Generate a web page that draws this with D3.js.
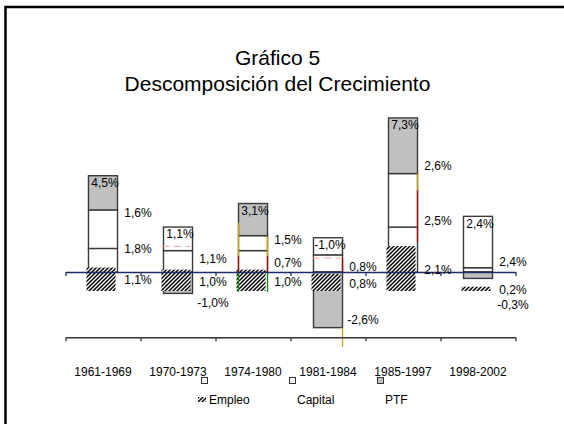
<!DOCTYPE html>
<html>
<head>
<meta charset="utf-8">
<script src="https://cdn.jsdelivr.net/npm/d3@7"></script>
<style>
  body { margin: 0; background: #fff; }
  text { font-family: "Liberation Sans", Arial, sans-serif; fill: #000; }
</style>
</head>
<body>
<script>
// datos del gráfico (% de crecimiento por periodo)
const periodos = ["1961-1969", "1970-1973", "1974-1980", "1981-1984", "1985-1997", "1998-2002"];
const empleo = [1.1, 1.0, 1.0, 0.8, 2.1, 0.2];
const capital = [1.8, 1.1, 0.7, 0.8, 2.5, 2.4];
const ptf = [1.6, -1.0, 1.5, -2.6, 2.6, -0.3];
const totales = [4.5, 1.1, 3.1, -1.0, 7.3, 2.4];

// restos de lineas de la hoja original (barras de error / lineas de unión)
const guiaPeriodo = ["1974-1980", "1974-1980", "1974-1980", "1974-1980", "1974-1980", "1974-1980",
                     "1981-1984", "1981-1984", "1985-1997", "1985-1997"];
const guiaLado = ["izq", "izq", "izq", "der", "der", "der", "der", "der", "der", "der"];
const guiaDesde = [2.3, 0.75, 0, 1.65, 0.75, 0, 0.65, -2.6, 4.6, 3.8];
const guiaHasta = [0.75, 0, -0.93, 0.75, 0, -0.93, 0, -3.5, 3.8, 1.4];
const guiaTipo = ["amarilla", "roja", "verde", "amarilla", "roja", "verde", "roja", "amarilla", "amarilla", "roja"];
const marcaPeriodo = ["1970-1973", "1981-1984"];
const marcaValor = [1.2, 0.65];

const leyenda = ["Empleo", "Capital", "PTF"];

const W = 564, H = 424;
// formato con coma decimal y guion normal
const fmt = v => d3.format(".1f")(v).replace(".", ",").replace("\u2212", "-") + "%";

const svg = d3.select("body").append("svg")
    .attr("width", W)
    .attr("height", H);

// trama rayada para el empleo
const defs = svg.append("defs");
const pat = defs.append("pattern")
    .attr("id", "rayado")
    .attr("patternUnits", "userSpaceOnUse")
    .attr("width", 4)
    .attr("height", 4);
pat.append("rect").attr("width", 4).attr("height", 4).attr("fill", "#fff");
pat.append("path")
    .attr("d", "M-1,1 L1,-1 M0,4 L4,0 M3,5 L5,3")
    .attr("stroke", "#000")
    .attr("stroke-width", 1.5);

// marco
svg.append("rect")
    .attr("x", 5.5).attr("y", 7)
    .attr("width", 620).attr("height", 500)
    .attr("fill", "none")
    .attr("stroke", "#000")
    .attr("stroke-width", 2.5);

// titulo
const titulo = svg.append("text")
    .attr("x", 277.5)
    .attr("text-anchor", "middle")
    .style("font-size", "21px");
titulo.append("tspan").attr("x", 277.5).attr("y", 65).text("Gráfico 5");
titulo.append("tspan").attr("x", 277.5).attr("y", 90.5).text("Descomposición del Crecimiento");

// escalas
const x = d3.scaleBand()
    .domain(periodos)
    .range([65.5, 515.5])
    .paddingInner(0.613)
    .paddingOuter(0.3065);
const bw = x.bandwidth();
const cx = p => x(p) + bw / 2;

const y = d3.scaleLinear().domain([-4, 8]).range([272 + 4 * 21.4, 272 - 8 * 21.4]);
// el rayado va en un segundo grafico desplazado hacia abajo
const y2 = d3.scaleLinear().domain([0, 1]).range([291, 291 - 21.4]);

const limites = d3.scaleLinear().domain([0, periodos.length]).range([65.5, 515.5]);

// tabla para el apilado
const filas = periodos.map((p, i) => ({ periodo: p, empleo: empleo[i], capital: capital[i], ptf: ptf[i] }));
const claves = ["empleo", "capital", "ptf"];
const series = d3.stack().keys(claves).offset(d3.stackOffsetDiverging)(filas);
const relleno = { empleo: "#fff", capital: "#fff", ptf: "#c0c0c0" };

const barras = svg.append("g");
series.forEach(s => {
    barras.selectAll(null)
        .data(s)
        .enter()
        .append("rect")
        .attr("x", d => x(d.data.periodo))
        .attr("y", d => y(Math.max(d[0], d[1])))
        .attr("width", bw)
        .attr("height", d => Math.abs(y(d[0]) - y(d[1])))
        .attr("fill", relleno[s.key])
        .attr("stroke", "#3a3a3a")
        .attr("stroke-width", 1.4);
});

// empleo rayado
svg.append("g").selectAll("rect")
    .data(filas)
    .enter()
    .append("rect")
    .attr("x", d => x(d.periodo) - 2)
    .attr("y", d => y2(d.empleo))
    .attr("width", bw)
    .attr("height", d => y2(0) - y2(d.empleo))
    .attr("fill", "url(#rayado)");

// lineas sueltas
const colorGuia = d3.scaleOrdinal()
    .domain(["amarilla", "roja", "verde"])
    .range(["#c9a000", "#a00000", "#008c00"]);
svg.append("g").selectAll("line")
    .data(guiaPeriodo.map((p, i) => ({ p, lado: guiaLado[i], a: guiaDesde[i], b: guiaHasta[i], t: guiaTipo[i] })))
    .enter()
    .append("line")
    .attr("x1", d => d.lado === "izq" ? x(d.p) : x(d.p) + bw)
    .attr("x2", d => d.lado === "izq" ? x(d.p) : x(d.p) + bw)
    .attr("y1", d => y(d.a))
    .attr("y2", d => y(d.b))
    .attr("stroke", d => colorGuia(d.t))
    .attr("stroke-width", 1.3);

svg.append("g").selectAll("line")
    .data(marcaPeriodo.map((p, i) => ({ p, v: marcaValor[i] })))
    .enter()
    .append("line")
    .attr("x1", d => x(d.p) - 2)
    .attr("x2", d => x(d.p) + bw - 2)
    .attr("y1", d => y(d.v))
    .attr("y2", d => y(d.v))
    .attr("stroke", "#f0a8a8")
    .attr("stroke-width", 1)
    .attr("stroke-dasharray", "8,4");

// eje principal en cero
const ejeX = svg.append("g")
    .attr("transform", `translate(0, ${y(0)})`)
    .call(d3.axisBottom(limites).ticks(periodos.length).tickSize(4).tickSizeOuter(0).tickFormat(""));
ejeX.selectAll("path, line").attr("stroke", "#1f2d66").attr("stroke-width", 1.3);

// segundo eje, mas abajo
const ejeInf = svg.append("g")
    .attr("transform", `translate(0, ${y(-3.05)})`)
    .call(d3.axisBottom(limites).ticks(periodos.length).tickSize(4).tickSizeOuter(0).tickFormat(""));
ejeInf.selectAll("path, line").attr("stroke", "#333").attr("stroke-width", 1.3);

// etiquetas de cada componente, al lado derecho
const etiquetas = [];
periodos.forEach((p, i) => {
    const grupo = series.map(s => {
        const d = s[i];
        return { p, v: d.data[s.key], cy: (y(d[0]) + y(d[1])) / 2 + 20 };
    }).sort((a, b) => a.cy - b.cy);
    for (let k = 1; k < grupo.length; k++) {
        if (grupo[k].cy - grupo[k - 1].cy < 15) grupo[k].cy = grupo[k - 1].cy + 15;
    }
    grupo.forEach(g => etiquetas.push(g));
});
svg.append("g").selectAll("text")
    .data(etiquetas)
    .enter()
    .append("text")
    .attr("x", d => cx(d.p) + 35)
    .attr("y", d => d.cy)
    .attr("dy", "0.35em")
    .attr("text-anchor", "middle")
    .style("font-size", "12px")
    .text(d => fmt(d.v));

// totales arriba de cada barra
svg.append("g").selectAll("text")
    .data(filas)
    .enter()
    .append("text")
    .attr("x", d => cx(d.periodo) + 2)
    .attr("y", d => y(claves.reduce((s, k) => s + Math.max(0, d[k]), 0)) + 7)
    .attr("dy", "0.35em")
    .attr("text-anchor", "middle")
    .style("font-size", "12px")
    .text((d, i) => fmt(totales[i]));

// periodos
svg.append("g").selectAll("text")
    .data(periodos)
    .enter()
    .append("text")
    .attr("x", d => cx(d))
    .attr("y", 376)
    .attr("text-anchor", "middle")
    .style("font-size", "12px")
    .text(d => d);

// leyenda (las claves quedaron corridas hacia arriba)
const lx = d3.scalePoint().domain(leyenda).range([209, 385]);
const clave = { Empleo: "#fff", Capital: "#fff", PTF: "#c0c0c0" };
const ley = svg.append("g");
ley.selectAll("rect.clave")
    .data(leyenda)
    .enter()
    .append("rect")
    .attr("class", "clave")
    .attr("x", d => lx(d) - 7.5)
    .attr("y", 377.5)
    .attr("width", 6)
    .attr("height", 6)
    .attr("fill", d => clave[d])
    .attr("stroke", "#333")
    .attr("stroke-width", 1);
ley.append("rect")
    .attr("x", lx("Empleo") - 11)
    .attr("y", 397)
    .attr("width", 8)
    .attr("height", 5)
    .attr("fill", "url(#rayado)");
ley.selectAll("text")
    .data(leyenda)
    .enter()
    .append("text")
    .attr("x", d => lx(d))
    .attr("y", 404)
    .style("font-size", "12px")
    .text(d => d);
</script>
</body>
</html>
